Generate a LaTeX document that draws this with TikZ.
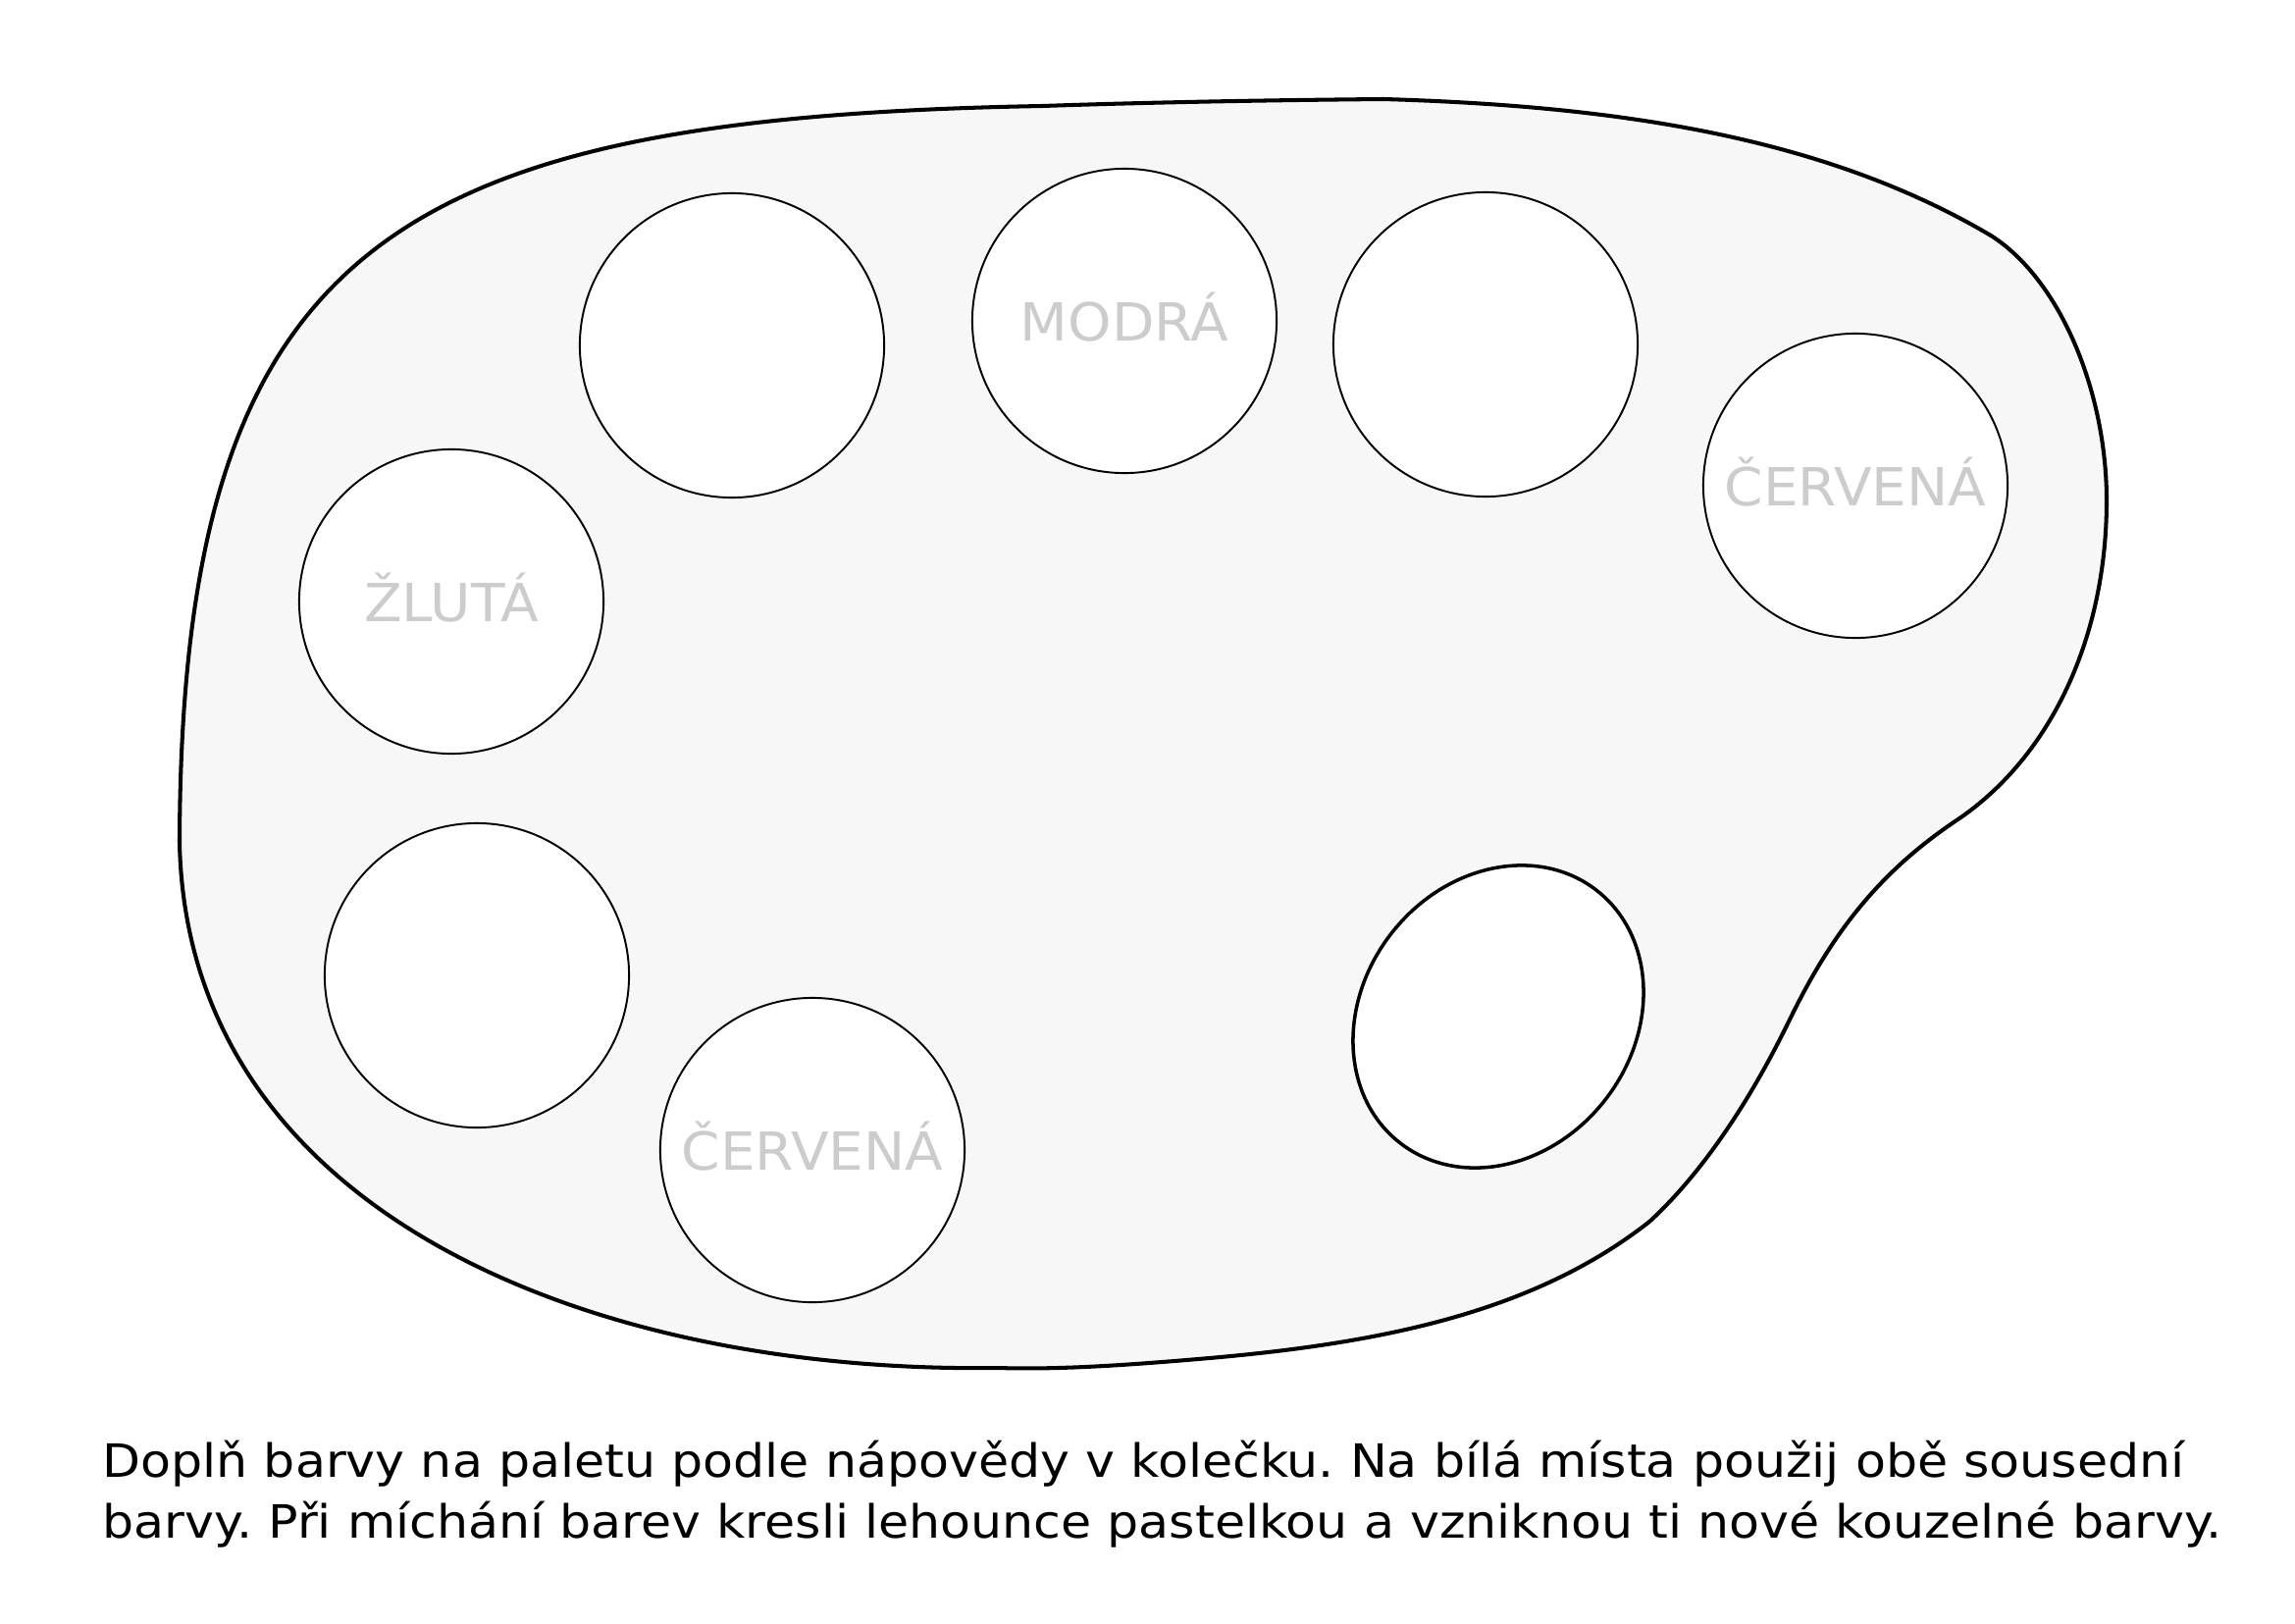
\documentclass[tikz,border=0pt]{standalone}
\usepackage{fontspec}
\setmainfont{DejaVu Sans}
\newfontfamily\hintfont[FakeStretch=1.057]{DejaVu Sans}
\newfontfamily\capfont[FakeStretch=1.082]{DejaVu Sans}
\usetikzlibrary{shapes.geometric}
\definecolor{palfill}{HTML}{F7F7F7}
\definecolor{hintgray}{HTML}{CCCCCC}
\tikzset{
  hole/.style={circle, draw=black, fill=white, line width=0.55pt, minimum size=3.1cm, inner sep=0pt},
  bighole/.style={ellipse, draw=black, fill=white, line width=1pt, minimum width=3.26cm, minimum height=2.76cm, inner sep=0pt, rotate=52},
  hint/.style={anchor=base, text=hintgray, font=\hintfont\fontsize{15.2pt}{18pt}\selectfont, inner sep=0pt},
  caption/.style={anchor=base west, font=\capfont\fontsize{13.3pt}{16pt}\selectfont\frenchspacing, inner sep=0pt},
  outline/.style={draw=black, line width=1.15pt, fill=palfill, line join=round}
}
\begin{document}
\begin{tikzpicture}[x=0.01cm, y=-0.01cm]
\useasboundingbox[fill=white] (0,0) rectangle (2339,1654);
% palette
\coordinate (pTop) at (1410,101);
\coordinate (pKink) at (2029,240);
\coordinate (pRight) at (2147,510);
\coordinate (pBump) at (1997,834);
\coordinate (pNeck) at (1825,1037);
\coordinate (pKink2) at (1681,1245);
\coordinate (pLow) at (1221,1385);
\coordinate (pBottom) at (1017,1394);
\coordinate (pLeft) at (183,858);
\coordinate (pTopL) at (1062,108);
\draw[outline]
  (pTop) .. controls (1650,108) and (1860,140) .. (pKink)
  .. controls (2100,285) and (2147,400) .. (pRight)
  .. controls (2147,650) and (2090,770) .. (pBump)
  .. controls (1920,885) and (1870,945) .. (pNeck)
  .. controls (1780,1130) and (1730,1200) .. (pKink2)
  .. controls (1560,1340) and (1400,1370) .. (pLow)
  .. controls (1150,1391) and (1080,1396) .. (pBottom)
  .. controls (600,1400) and (190,1235) .. (pLeft)
  .. controls (185,250) and (400,120) .. (pTopL)
  .. controls (1180,104) and (1300,102) .. (pTop)
  -- cycle;
% holes
\node[hole] (h1) at (746,352) {};
\node[hole] (h2) at (1146,327) {};
\node[hole] (h3) at (1514,351) {};
\node[hole] (h4) at (1891,495) {};
\node[hole] (h5) at (460,613) {};
\node[hole] (h6) at (486,994) {};
\node[hole] (h7) at (828,1172) {};
\node[bighole] (h8) at (1527,1036) {};
% hints
\node[hint] (t2) at (1146,347) {MODRÁ};
\node[hint] (t4) at (1891,515) {ČERVENÁ};
\node[hint] (t5) at (460,633) {ŽLUTÁ};
\node[hint] (t7) at (828,1192) {ČERVENÁ};
% caption
\node[caption] (c1) at (104,1505) {Doplň barvy na paletu podle nápovědy v kolečku. Na bílá místa použij obě sousední};
\node[caption] (c2) at (104,1567) {barvy. Při míchání barev kresli lehounce pastelkou a vzniknou ti nové kouzelné barvy.};
\end{tikzpicture}
\end{document}
